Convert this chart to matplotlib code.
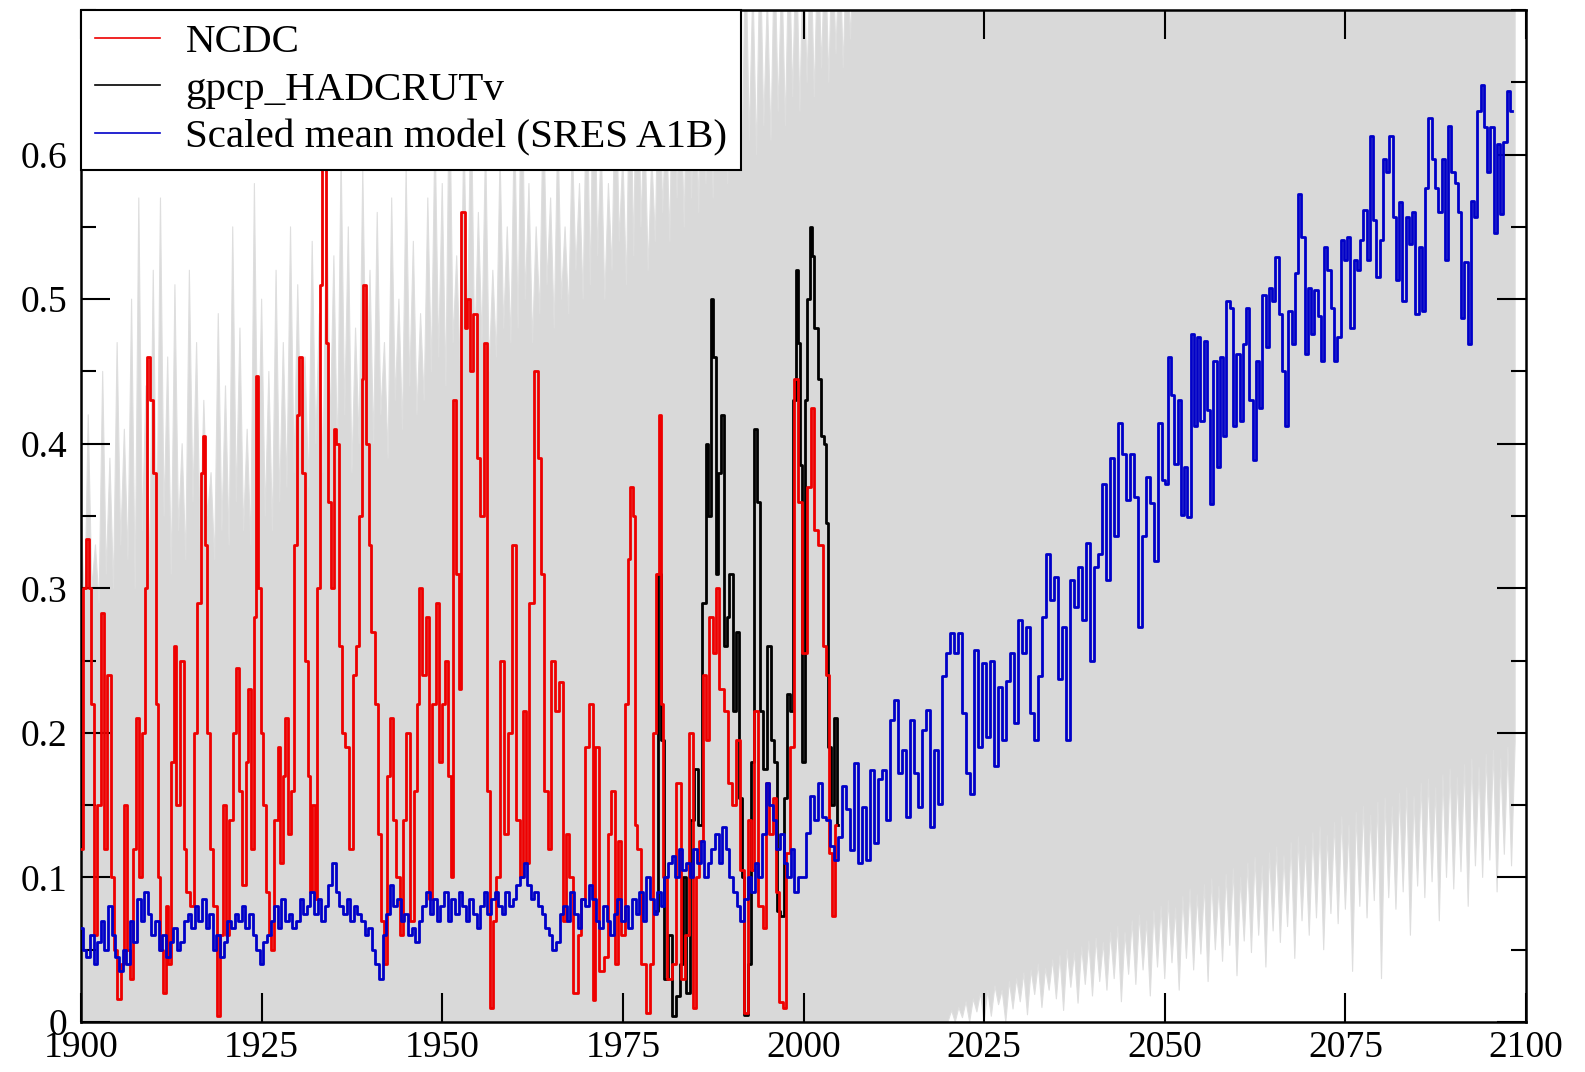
import numpy as np
import matplotlib
matplotlib.use("Agg")
import matplotlib.pyplot as plt
from matplotlib.ticker import MultipleLocator

plt.rcParams['font.family'] = ['Liberation Serif', 'DejaVu Serif']

# ---------------- data ----------------
labels = ["NCDC", "gpcp_HADCRUTv", "Scaled mean model (SRES A1B)"]

# NCDC (red)
red_years = [1900.0,1900.5,1900.9,1901.3,1901.6,1902.0,1902.4,1903.0,1903.4,1903.9,1904.3,1904.8,1905.3,1905.8,
             1906.2,1906.6,1907.0,1907.4,1907.8,1908.2,1908.7,1909.0,1909.4,1909.8,1910.2,1910.5,1910.8,1911.1,
             1911.5,1911.9,1912.3,1912.7,1913.0,1913.4,1914.0,1914.4,1914.8,1915.4,1915.8,1916.4,1916.8,1917.0,
             1917.3,1917.7,1918.1,1918.5,1919.1,1919.5,1919.9,1920.3,1920.8,1921.2,1921.6,1922.0,1922.6,1923.0,
             1923.3,1923.7,1924.1,1924.4,1924.7,1925.0,1925.4,1925.8,1926.2,1926.5,1927.0,1927.4,1927.7,1928.1,
             1928.5,1928.9,1929.3,1929.7,1930.0,1930.4,1930.8,1931.2,1931.5,1931.8,1932.2,1932.5,1932.9,1933.2,
             1933.5,1933.7,1934.0,1934.4,1934.8,1935.1,1935.5,1935.9,1936.3,1936.9,1937.4,1937.8,1938.3,1938.7,
             1939.0,1939.2,1939.6,1940.0,1940.4,1940.9,1941.3,1941.7,1942.2,1942.6,1943.0,1943.4,1943.9,1944.3,
             1944.8,1945.3,1945.9,1946.3,1946.7,1947.0,1947.5,1948.0,1948.4,1948.9,1949.3,1949.7,1950.1,1950.6,
             1951.0,1951.4,1951.7,1952.2,1952.4,1952.9,1953.3,1953.6,1954.0,1954.6,1954.9,1955.5,1956.0,1956.3,
             1956.8,1957.2,1957.7,1958.4,1958.8,1959.3,1960.0,1960.5,1960.9,1961.4,1961.8,1962.3,1963.0,1963.5,
             1963.9,1964.4,1964.8,1965.3,1966.0,1966.4,1966.9,1967.4,1967.8,1968.5,1969.0,1969.4,1970.1,1970.6,
             1971.0,1971.4,1972.0,1972.7,1973.1,1973.6,1974.1,1974.5,1975.0,1975.5,1975.9,1976.2,1976.5,1976.8,
             1977.1,1977.8,1978.5,1978.9,1979.5,1979.8,1980.1,1980.4,1980.8,1981.5,1982.1,1982.7,1983.3,1984.0,
             1984.4,1984.9,1985.4,1985.8,1986.3,1986.6,1987.2,1987.7,1988.1,1988.6,1989.3,1989.9,1990.4,1990.9,
             1991.6,1992.0,1992.5,1992.9,1993.4,1994.1,1994.6,1995.0,1995.5,1996.0,1996.4,1996.9,1997.4,1997.8,
             1998.5,1999.0,1999.4,2000.1,2000.8,2001.3,2001.7,2002.4,2002.9,2003.3,2003.8,2004.1,2004.5]
red_vals = [0.12,0.30,0.334,0.30,0.22,0.06,0.15,0.283,0.12,0.24,0.10,0.05,0.016,0.04,
            0.15,0.05,0.03,0.12,0.21,0.10,0.20,0.30,0.46,0.43,0.38,0.22,0.10,0.05,
            0.02,0.08,0.04,0.18,0.26,0.15,0.25,0.12,0.09,0.08,0.20,0.29,0.38,0.405,
            0.33,0.20,0.12,0.08,0.004,0.06,0.15,0.06,0.14,0.20,0.245,0.16,0.095,0.18,
            0.23,0.12,0.28,0.447,0.30,0.20,0.15,0.09,0.06,0.05,0.14,0.19,0.11,0.17,
            0.21,0.13,0.16,0.33,0.42,0.46,0.38,0.25,0.17,0.09,0.15,0.085,0.30,0.51,
            0.62,0.59,0.47,0.36,0.30,0.41,0.40,0.26,0.20,0.19,0.12,0.24,0.26,0.35,
            0.445,0.51,0.40,0.33,0.27,0.22,0.13,0.07,0.04,0.17,0.21,0.14,0.10,0.06,
            0.14,0.20,0.07,0.16,0.22,0.30,0.24,0.28,0.085,0.22,0.29,0.18,0.22,0.25,
            0.17,0.10,0.43,0.31,0.23,0.56,0.48,0.50,0.45,0.49,0.39,0.35,0.47,0.16,
            0.01,0.07,0.10,0.25,0.13,0.20,0.33,0.14,0.10,0.215,0.11,0.29,0.45,0.39,
            0.31,0.16,0.12,0.25,0.215,0.235,0.07,0.13,0.10,0.02,0.06,0.085,0.19,0.22,
            0.015,0.19,0.035,0.045,0.13,0.16,0.04,0.125,0.06,0.22,0.32,0.37,0.35,0.136,
            0.12,0.04,0.006,0.04,0.20,0.31,0.42,0.22,0.10,0.03,0.04,0.165,0.03,0.06,
            0.20,0.01,0.10,0.125,0.24,0.195,0.28,0.255,0.30,0.23,0.215,0.165,0.15,0.195,
            0.105,0.006,0.14,0.105,0.215,0.08,0.065,0.165,0.13,0.155,0.09,0.014,0.01,0.117,
            0.19,0.445,0.36,0.255,0.37,0.425,0.34,0.33,0.26,0.24,0.117,0.073,0.136]

# gpcp_HADCRUTv (black)
blk_years = [1979.6,1980.1,1980.5,1981.0,1981.5,1982.1,1982.6,1983.1,1983.5,1984.0,1984.7,1985.1,1985.7,
             1986.3,1986.6,1987.0,1987.3,1987.7,1988.0,1988.4,1988.8,1989.2,1989.5,1990.0,1990.4,1990.9,
             1991.3,1991.6,1992.0,1992.5,1993.0,1993.4,1993.8,1994.1,1994.6,1995.2,1995.7,1996.1,1996.6,
             1997.0,1997.5,1998.0,1998.4,1998.8,1999.1,1999.3,1999.7,2000.0,2000.3,2000.7,2001.0,2001.3,
             2001.7,2002.2,2002.6,2003.0,2003.3,2003.6,2004.0,2004.5,2004.8]
blk_vals = [0.077,0.31,0.195,0.03,0.06,0.004,0.018,0.04,0.10,0.02,0.14,0.175,0.136,
            0.29,0.40,0.35,0.50,0.46,0.31,0.38,0.42,0.26,0.28,0.31,0.215,0.27,
            0.155,0.10,0.005,0.04,0.18,0.41,0.36,0.215,0.175,0.26,0.195,0.18,0.077,
            0.073,0.155,0.227,0.215,0.43,0.52,0.47,0.385,0.18,0.43,0.50,0.55,0.53,
            0.48,0.445,0.405,0.40,0.345,0.19,0.15,0.21,0.136]

# Scaled mean model (blue), 1900.0-1999.5 every half year
blue_hist = [0.065,0.05,0.045,0.06,0.04,0.055,0.07,0.05,0.08,0.06,0.045,0.035,0.05,0.04,0.07,0.055,0.085,0.07,0.09,0.075,
             0.06,0.07,0.05,0.06,0.045,0.055,0.065,0.05,0.055,0.07,0.075,0.065,0.08,0.07,0.085,0.065,0.075,0.05,0.06,0.045,
             0.055,0.07,0.065,0.075,0.07,0.08,0.065,0.075,0.06,0.05,0.04,0.055,0.06,0.07,0.08,0.065,0.085,0.07,0.075,0.065,
             0.07,0.085,0.075,0.08,0.09,0.075,0.085,0.07,0.08,0.095,0.11,0.09,0.08,0.075,0.085,0.07,0.08,0.075,0.07,0.06,
             0.065,0.05,0.04,0.03,0.06,0.075,0.095,0.08,0.085,0.07,0.075,0.06,0.065,0.055,0.07,0.08,0.09,0.075,0.085,0.07,
             0.08,0.09,0.07,0.085,0.075,0.09,0.08,0.07,0.085,0.075,0.065,0.08,0.09,0.075,0.085,0.09,0.08,0.075,0.09,0.08,
             0.085,0.095,0.1,0.11,0.095,0.085,0.09,0.08,0.075,0.065,0.06,0.05,0.055,0.075,0.08,0.07,0.09,0.075,0.065,0.085,
             0.08,0.095,0.085,0.07,0.065,0.08,0.07,0.06,0.075,0.085,0.07,0.08,0.065,0.085,0.075,0.09,0.07,0.1,0.085,0.075,
             0.09,0.08,0.1,0.11,0.115,0.1,0.12,0.105,0.11,0.1,0.12,0.11,0.125,0.1,0.11,0.12,0.13,0.11,0.135,0.12,
             0.1,0.09,0.08,0.07,0.085,0.1,0.09,0.11,0.1,0.13,0.165,0.15,0.14,0.12,0.13,0.11,0.1,0.12,0.09,0.1]
blue_hist_start, blue_hist_step = 1900.0, 0.5

# Scaled mean model (blue), 2000.0-2049.9
blue_mid = [0.10,0.131,0.156,0.14,0.165,0.142,0.14,0.122,0.112,0.128,0.163,0.147,0.119,0.179,0.11,0.149,0.112,0.174,
            0.124,0.168,0.174,0.14,0.209,0.223,0.172,0.188,0.142,0.209,0.172,0.149,0.202,0.216,0.135,0.188,0.151,
            0.239,0.255,0.269,0.255,0.269,0.214,0.172,0.158,0.257,0.19,0.248,0.197,0.25,0.177,0.232,0.195,0.236,
            0.255,0.207,0.278,0.255,0.273,0.214,0.195,0.239,0.28,0.324,0.292,0.308,0.237,0.273,0.195,0.306,0.287,
            0.315,0.278,0.331,0.25,0.315,0.324,0.372,0.306,0.39,0.336,0.414,0.393,0.361,0.393,0.363,0.273,0.336,
            0.377,0.359,0.319,0.414,0.375]
blue_mid_span = (2000.0, 2049.9)

# Scaled mean model (blue), 2050.2-2098.0
blue_late = [0.372,0.46,0.434,0.386,0.43,0.351,0.384,0.349,0.476,0.412,0.474,0.416,0.471,0.423,0.358,0.457,0.384,
             0.46,0.405,0.499,0.494,0.412,0.462,0.416,0.469,0.494,0.43,0.389,0.457,0.425,0.503,0.467,0.508,0.499,
             0.529,0.49,0.45,0.412,0.492,0.469,0.518,0.573,0.543,0.462,0.508,0.476,0.506,0.488,0.457,0.536,0.52,
             0.494,0.457,0.474,0.541,0.527,0.543,0.48,0.527,0.52,0.541,0.562,0.527,0.613,0.555,0.515,0.541,0.597,
             0.588,0.613,0.557,0.513,0.567,0.499,0.557,0.538,0.56,0.49,0.536,0.492,0.577,0.625,0.597,0.577,0.56,
             0.597,0.527,0.62,0.588,0.58,0.56,0.487,0.526,0.469,0.568,0.557,0.63,0.648,0.619,0.588,0.619,0.546,
             0.607,0.559,0.609,0.644,0.63]
blue_late_span = (2050.2, 2098.0)

# model ensemble spread (grey), half-yearly
env_step = 0.5
env_upper_start = 1900.0
env_upper = [0.36,0.28,0.42,0.30,0.33,0.29,0.45,0.31,0.39,0.30,0.47,0.33,0.41,0.32,0.50,0.30,0.57,0.34,0.44,0.31,
             0.52,0.33,0.57,0.35,0.46,0.31,0.51,0.34,0.40,0.32,0.52,0.36,0.47,0.33,0.43,0.35,0.38,0.32,0.49,0.34,
             0.44,0.33,0.55,0.36,0.48,0.34,0.41,0.33,0.58,0.37,0.50,0.35,0.45,0.34,0.52,0.36,0.47,0.37,0.55,0.38,
             0.51,0.39,0.46,0.37,0.54,0.40,0.49,0.38,0.58,0.41,0.53,0.39,0.60,0.42,0.55,0.38,0.48,0.40,0.59,0.43,
             0.52,0.40,0.56,0.42,0.47,0.39,0.57,0.43,0.50,0.41,0.59,0.44,0.54,0.42,0.49,0.43,0.57,0.45,0.62,0.46,
             0.58,0.44,0.66,0.47,0.53,0.45,0.62,0.48,0.65,0.46,0.56,0.47,0.61,0.45,0.52,0.46,0.60,0.48,0.55,0.47,
             0.63,0.48,0.68,0.50,0.58,0.47,0.55,0.49,0.64,0.51,0.57,0.48,0.62,0.50,0.55,0.49,0.61,0.52,0.58,0.50,
             0.66,0.51,0.70,0.53,0.61,0.50,0.58,0.52,0.67,0.54,0.60,0.51,0.68,0.53,0.72,0.55,0.63,0.52,0.60,0.54,
             0.69,0.56,0.63,0.54,0.71,0.57,0.65,0.55,0.72,0.57,0.67,0.56,0.73,0.58,0.69,0.57,0.75,0.59,0.68,0.58,
             0.74,0.60,0.70,0.59,0.75,0.61,0.72,0.60,0.75,0.62,0.71,0.61,0.75,0.63,0.73,0.62,0.75,0.64,0.75,0.63,
             0.75,0.65,0.75,0.64,0.75,0.66,0.75,0.65,0.75,0.67,0.75,0.66,0.75,0.68,0.75,0.70,0.75,0.72,0.75,0.75]
env_lower_start = 2020.0
env_lower = [0.0,0.008,0.0,0.01,0.003,0.014,0.0,0.016,0.007,0.02,0.0,0.022,0.004,0.025,0.012,0.022,0.0,0.028,0.009,0.03,
             0.014,0.034,0.005,0.036,0.019,0.04,0.01,0.037,0.022,0.043,0.016,0.046,0.008,0.05,0.024,0.048,0.013,0.052,0.026,0.056,
             0.018,0.058,0.028,0.055,0.022,0.062,0.03,0.066,0.014,0.062,0.033,0.07,0.026,0.074,0.036,0.07,0.018,0.077,0.038,0.08,
             0.03,0.084,0.041,0.079,0.022,0.087,0.044,0.092,0.036,0.088,0.047,0.095,0.028,0.099,0.05,0.094,0.042,0.102,0.053,0.106,
             0.032,0.1,0.056,0.11,0.048,0.114,0.06,0.108,0.038,0.117,0.063,0.121,0.055,0.115,0.066,0.124,0.044,0.128,0.07,0.122,
             0.06,0.131,0.072,0.135,0.05,0.129,0.075,0.138,0.068,0.142,0.078,0.136,0.035,0.145,0.08,0.149,0.072,0.143,0.084,0.152,
             0.03,0.155,0.086,0.149,0.078,0.158,0.09,0.162,0.06,0.156,0.094,0.165,0.086,0.168,0.097,0.162,0.07,0.171,0.1,0.175,
             0.092,0.169,0.104,0.178,0.08,0.182,0.108,0.176,0.1,0.185,0.112,0.188,0.09,0.182,0.116,0.19,0.108,0.194,0.12,0.19]
env_end = 2098.5
env_top = 0.75

# ---------------- figure ----------------
W, H, DPI = 1585, 1072, 100
fig = plt.figure(figsize=(W / DPI, H / DPI), dpi=DPI)
ax = fig.add_axes([81 / W, 1 - 1022 / H, (1526 - 81) / W, (1022 - 10) / H])

grey = '#d9d9d9'
xu = env_upper_start + env_step * np.arange(len(env_upper))
grid_x = np.arange(env_upper_start, env_end + 1e-9, env_step)
upper_full = np.concatenate([env_upper, np.full(len(grid_x) - len(xu), env_top)])
n_pre = int(round((env_lower_start - env_upper_start) / env_step))
lower_full = np.concatenate([np.zeros(n_pre), env_lower])[:len(grid_x)]
ax.fill_between(grid_x, lower_full, upper_full, color=grey, lw=0.8,
                edgecolor='#dedede', zorder=1)

blue_x = np.concatenate([blue_hist_start + blue_hist_step * np.arange(len(blue_hist)),
                         np.linspace(*blue_mid_span, len(blue_mid)),
                         np.linspace(*blue_late_span, len(blue_late))])
blue_y = np.concatenate([blue_hist, blue_mid, blue_late])

lw = 2.0
l_blk, = ax.plot(blk_years, blk_vals, color='black', lw=lw, drawstyle='steps-mid', zorder=3)
l_red, = ax.plot(red_years, red_vals, color='#ee0000', lw=lw, drawstyle='steps-mid', zorder=4)
l_blu, = ax.plot(blue_x, blue_y, color='#0000c8', lw=lw, drawstyle='steps-mid', zorder=5)

ax.set_xlim(1900, 2100)
ax.set_ylim(0, 0.7)
ax.xaxis.set_major_locator(MultipleLocator(25))
ax.yaxis.set_minor_locator(MultipleLocator(0.05))
ax.set_yticks(np.arange(0, 0.61, 0.1))
ax.set_yticklabels(['0', '0.1', '0.2', '0.3', '0.4', '0.5', '0.6'])
ax.tick_params(axis='both', which='major', direction='in', length=21, width=1.5,
               top=True, right=True, labelsize=27)
ax.tick_params(axis='y', which='minor', direction='in', length=11, width=1.5, right=True, left=True)
ax.tick_params(axis='x', which='major', pad=6)
ax.tick_params(axis='y', which='major', pad=10)
for s in ax.spines.values():
    s.set_linewidth(1.8)

leg = ax.legend([l_red, l_blk, l_blu], labels, loc='upper left', bbox_to_anchor=(0, 1),
                borderaxespad=0, fancybox=False, framealpha=1, edgecolor='black',
                fontsize=29.5, handlelength=1.6, handletextpad=0.62, labelspacing=0.24,
                borderpad=0.33)
leg.get_frame().set_linewidth(1.5)
for ln in leg.get_lines():
    ln.set_linewidth(1.2)
leg.set_zorder(10)

fig.savefig('out.png', dpi=DPI)
